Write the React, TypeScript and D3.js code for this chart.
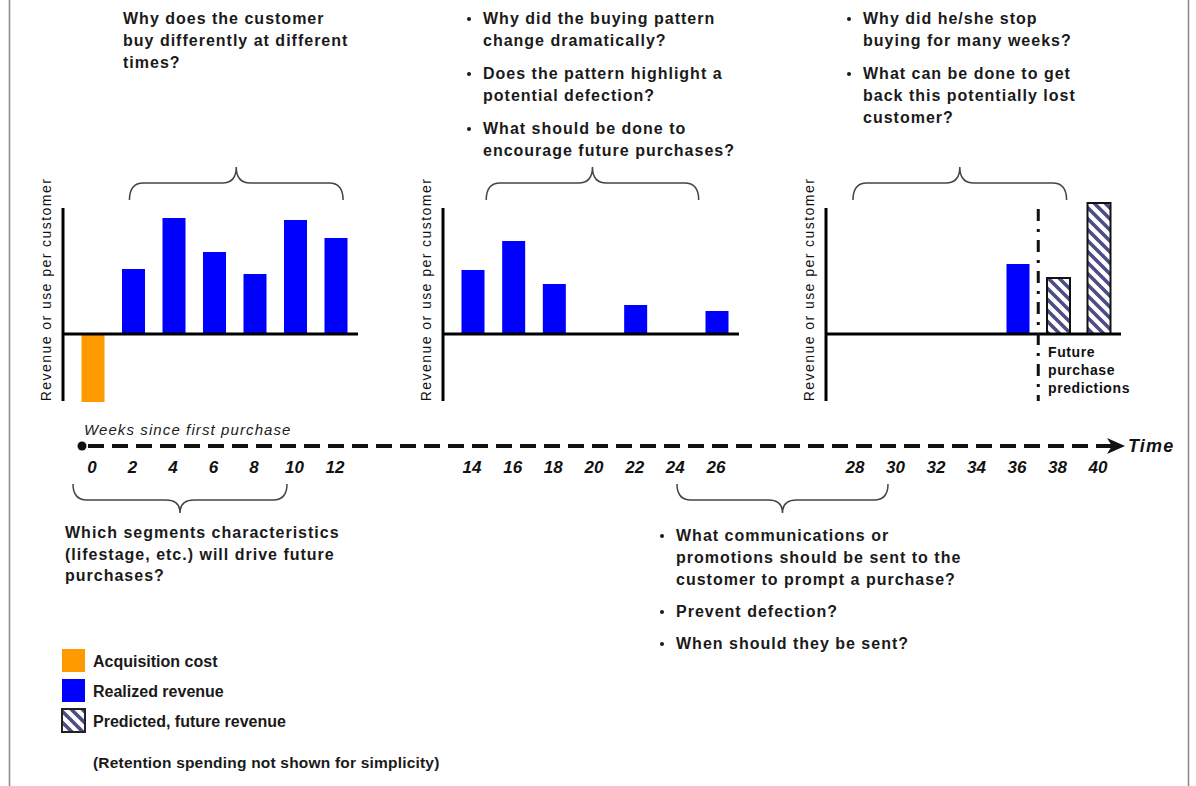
import React from 'react';
import * as d3 from 'd3';

// bars per panel (weeks since first purchase, height in chart units)
const panel1Weeks = [0, 2, 4, 6, 8, 10, 12];
const panel1Values = [-68, 65, 116, 82, 60, 114, 96];
const panel1Kinds = ['cost', 'real', 'real', 'real', 'real', 'real', 'real'];

const panel2Weeks = [14, 16, 18, 22, 26];
const panel2Values = [64, 93, 50, 29, 23];
const panel2Kinds = ['real', 'real', 'real', 'real', 'real'];

const panel3Weeks = [36, 38, 40];
const panel3Values = [70, 56, 131];
const panel3Kinds = ['real', 'pred', 'pred'];

const tickWeeks = [0, 2, 4, 6, 8, 10, 12, 14, 16, 18, 20, 22, 24, 26, 28, 30, 32, 34, 36, 38, 40];

const topLeftText = ['Why does the customer', 'buy differently at different', 'times?'];
const topMidText = [
  ['Why did the buying pattern', 'change dramatically?'],
  ['Does the pattern highlight a', 'potential defection?'],
  ['What should be done to', 'encourage future purchases?'],
];
const topRightText = [
  ['Why did he/she stop', 'buying for many weeks?'],
  ['What can be done to get', 'back this potentially lost', 'customer?'],
];
const bottomLeftText = ['Which segments characteristics', '(lifestage, etc.) will drive future', 'purchases?'];
const bottomMidText = [
  ['What communications or', 'promotions should be sent to the', 'customer to prompt a purchase?'],
  ['Prevent defection?'],
  ['When should they be sent?'],
];
const legendLabels = ['Acquisition cost', 'Realized revenue', 'Predicted, future revenue'];
const legendKinds = ['cost', 'real', 'pred'];

const W = 1196;
const H = 786;
const FONT = '"Liberation Sans", Arial, Helvetica, sans-serif';
const BLUE = '#0000ff';
const ORANGE = '#ff9900';

const panels = [
  { weeks: panel1Weeks, values: panel1Values, kinds: panel1Kinds, domain: [0, 12], range: [93, 336], brace: [1.8, 12.35] },
  { weeks: panel2Weeks, values: panel2Values, kinds: panel2Kinds, domain: [14, 26], range: [473, 717], brace: [14.65, 25.1] },
  { weeks: panel3Weeks, values: panel3Values, kinds: panel3Kinds, domain: [28, 40], range: [856, 1099], brace: [27.85, 38.4] },
];

const y = d3.scaleLinear().domain([-67, 126]).range([401, 208]);
const barW = 23;

function xFor(w: number) {
  const p = panels.find(pp => w >= pp.domain[0] && w <= pp.domain[1])!;
  return d3.scaleLinear().domain(p.domain).range(p.range)(w);
}

// curly brace, tip at yTip, arms at yArm, ends at yEnd
function brace(x0: number, x1: number, yEnd: number, yArm: number, yTip: number) {
  const xm = (x0 + x1) / 2;
  const r = 14;
  const p = d3.path();
  p.moveTo(x0, yEnd);
  p.quadraticCurveTo(x0, yArm, x0 + r, yArm);
  p.lineTo(xm - r, yArm);
  p.quadraticCurveTo(xm, yArm, xm, yTip);
  p.quadraticCurveTo(xm, yArm, xm + r, yArm);
  p.lineTo(x1 - r, yArm);
  p.quadraticCurveTo(x1, yArm, x1, yEnd);
  return p.toString();
}

const fillFor = (k: string) => (k === 'cost' ? ORANGE : k === 'real' ? BLUE : 'url(#hatch)');

const qStyle = { fontFamily: FONT, fontSize: 16, fontWeight: 700, letterSpacing: 1, fill: '#1a1a1a' } as const;

function Bullets({ groups, x, y0, line, gap }: { groups: string[][]; x: number; y0: number; line: number; gap: number }) {
  let cy = y0;
  const out: React.ReactNode[] = [];
  groups.forEach((g, gi) => {
    out.push(<circle key={'b' + gi} cx={x} cy={cy - 5} r={2} fill="#1a1a1a" />);
    g.forEach((t, ti) => {
      out.push(<text key={gi + '-' + ti} x={x + 14} y={cy + ti * line} style={qStyle}>{t}</text>);
    });
    cy += (g.length - 1) * line + gap;
  });
  return <g>{out}</g>;
}

export default function App() {
  const axisY = y(0);
  return (
    <svg width={W} height={H} style={{ position: 'absolute', left: 0, top: 0, background: '#fff' }}>
      <defs>
        <pattern id="hatch" width="11" height="11" patternUnits="userSpaceOnUse">
          <rect width="11" height="11" fill="#fff" />
          <path d="M-3,-3 L14,14 M-3,8 L3,14 M8,-3 L14,3" stroke="#4d4d85" strokeWidth="3.6" />
        </pattern>
      </defs>

      {/* frame */}
      <line x1={9.5} x2={9.5} y1={0} y2={H} stroke="#8c8c8c" strokeWidth={1.6} />
      <line x1={1188.5} x2={1188.5} y1={0} y2={H} stroke="#8c8c8c" strokeWidth={1.6} />

      {/* questions on top */}
      {topLeftText.map((t, i) => (
        <text key={i} x={123} y={24 + i * 22} style={qStyle}>{t}</text>
      ))}
      <Bullets groups={topMidText} x={469} y0={24} line={22} gap={33} />
      <Bullets groups={topRightText} x={849} y0={24} line={22} gap={33} />

      {panels.map((p, pi) => {
        const x = d3.scaleLinear().domain(p.domain).range(p.range);
        const ax0 = p.range[0] - 30;
        const ax1 = p.range[1] + 22;
        return (
          <g key={pi}>
            <path d={brace(x(p.brace[0]), x(p.brace[1]), 200, 183, 167)} fill="none" stroke="#444" strokeWidth={1.5} />
            <text
              transform={`translate(${ax0 - 12},${(y.range()[0] + y.range()[1]) / 2 - 15}) rotate(-90)`}
              textAnchor="middle"
              style={{ fontFamily: FONT, fontSize: 14, letterSpacing: 1.45, fill: '#111' }}
            >
              Revenue or use per customer
            </text>
            {p.weeks.map((w, i) => {
              const v = p.values[i];
              const k = p.kinds[i];
              return (
                <rect
                  key={w}
                  x={x(w) - barW / 2}
                  y={Math.min(y(v), axisY)}
                  width={barW}
                  height={Math.abs(y(v) - axisY)}
                  fill={fillFor(k)}
                  stroke={k === 'pred' ? '#111' : 'none'}
                  strokeWidth={k === 'pred' ? 2 : 0}
                />
              );
            })}
            <line x1={ax0} x2={ax0} y1={y.range()[1]} y2={y.range()[0]} stroke="#000" strokeWidth={3} />
            <line x1={ax0} x2={ax1} y1={axisY} y2={axisY} stroke="#000" strokeWidth={3} />
          </g>
        );
      })}

      {/* divider between realized and predicted */}
      <line x1={xFor(37)} x2={xFor(37)} y1={209} y2={401} stroke="#111" strokeWidth={3} strokeDasharray="12 8 3 8" />
      {['Future', 'purchase', 'predictions'].map((t, i) => (
        <text key={t} x={1048} y={357 + i * 18} style={{ fontFamily: FONT, fontSize: 14, fontWeight: 700, letterSpacing: 0.6, fill: '#111' }}>{t}</text>
      ))}

      {/* timeline */}
      <text x={84} y={435} style={{ fontFamily: FONT, fontSize: 15, fontStyle: 'italic', letterSpacing: 1.1, fill: '#1a1a1a' }}>
        Weeks since first purchase
      </text>
      <circle cx={82} cy={446} r={4.5} fill="#111" />
      <line x1={88} x2={1112} y1={446} y2={446} stroke="#111" strokeWidth={4} strokeDasharray="16 8" />
      <path d="M1125,446 L1107,438 L1112,446 L1107,454 Z" fill="#111" />
      <text x={1128} y={452} style={{ fontFamily: FONT, fontSize: 18, fontStyle: 'italic', fontWeight: 700, letterSpacing: 1.2, fill: '#111' }}>
        Time
      </text>
      {tickWeeks.map(w => (
        <text key={w} x={xFor(w) - 1} y={473} textAnchor="middle"
          style={{ fontFamily: FONT, fontSize: 17, fontStyle: 'italic', fontWeight: 700, fill: '#111' }}>
          {w}
        </text>
      ))}

      {/* lower braces and questions */}
      <path d={brace(73, 287, 484, 500, 513)} fill="none" stroke="#444" strokeWidth={1.5} />
      <path d={brace(677, 888, 484, 500, 513)} fill="none" stroke="#444" strokeWidth={1.5} />
      {bottomLeftText.map((t, i) => (
        <text key={i} x={65} y={538 + i * 21.5} style={qStyle}>{t}</text>
      ))}
      <Bullets groups={bottomMidText} x={662} y0={541} line={22} gap={32} />

      {/* legend */}
      {legendLabels.map((l, i) => {
        const ly = [649, 679, 709][i];
        const k = legendKinds[i];
        return (
          <g key={l}>
            <rect x={62} y={ly} width={23} height={23} fill={fillFor(k)}
              stroke={k === 'pred' ? '#222' : 'none'} strokeWidth={k === 'pred' ? 2 : 0} />
            <text x={93} y={ly + 18} style={{ fontFamily: FONT, fontSize: 16, fontWeight: 700, fill: '#1a1a1a' }}>{l}</text>
          </g>
        );
      })}
      <text x={93} y={768} style={{ fontFamily: FONT, fontSize: 15.5, fontWeight: 700, letterSpacing: 0.2, fill: '#1a1a1a' }}>
        (Retention spending not shown for simplicity)
      </text>
    </svg>
  );
}
